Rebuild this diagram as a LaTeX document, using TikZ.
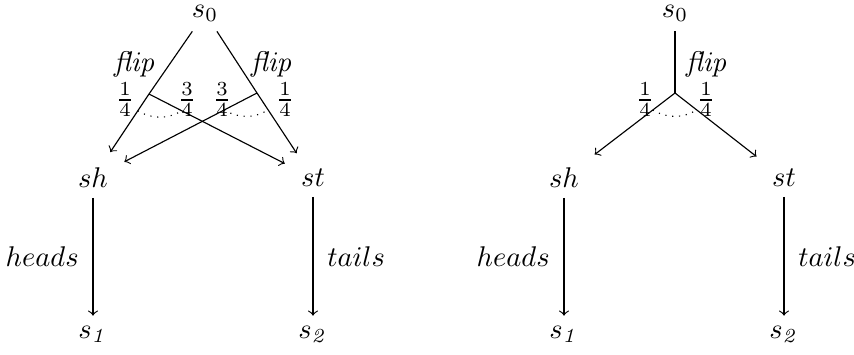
\documentclass[tikz,border=0pt]{standalone}
\usetikzlibrary{calc}
\begin{document}
\begin{tikzpicture}[x=0.351pt,y=-0.351pt,line width=0.4pt,>=to,
  branch/.style={->,shorten >=2.5pt},
  choice/.style={dotted,bend right=30}]
\useasboundingbox (0,0) rectangle (854,354);
% left: one flip for each outcome
\node (s0) at (205,13) {$s_0$};
\coordinate (fa) at (149,94);
\coordinate (fb) at (257,93);
\node (sh) at (93,178) {$sh$};
\node (st) at (313,178) {$st$};
\node (s1) at (93,334) {$s_{\mathit{1}}$};
\node (s2) at (313,334) {$s_{\mathit{2}}$};
\draw (s0) -- (fa);
\draw (s0) -- (fb);
\draw[branch] (fa) -- (sh);
\draw[branch] (fa) -- (st);
\draw[branch] (fb) -- (sh);
\draw[branch] (fb) -- (st);
\draw[choice] ($(fa)!0.2!(sh)$) to ($(fa)!0.2!(st)$);
\draw[choice] ($(fb)!0.2!(sh)$) to ($(fb)!0.2!(st)$);
\draw[->] (sh) -- node[left=1.5pt] {$heads$} (s1);
\draw[->] (st) -- node[right=1.5pt] {$tails$} (s2);
\node (fla) at (135,64) {$\mathit{flip}$};
\node (flb) at (272,64) {$\mathit{flip}$};
\node (pa1) at (125,100) {$\frac{1}{4}$};
\node (pa3) at (187,100) {$\frac{3}{4}$};
\node (pb3) at (222,100) {$\frac{3}{4}$};
\node (pb1) at (285,100) {$\frac{1}{4}$};
% right: a single flip
\node (t0) at (675,13) {$s_0$};
\coordinate (fc) at (675,93);
\node (th) at (564,178) {$sh$};
\node (tt) at (784,178) {$st$};
\node (t1) at (564,334) {$s_{\mathit{1}}$};
\node (t2) at (784,334) {$s_{\mathit{2}}$};
\draw (t0) -- (fc);
\draw[branch] (fc) -- (th);
\draw[branch] (fc) -- (tt);
\draw[choice] ($(fc)!0.2!(th)$) to ($(fc)!0.2!(tt)$);
\draw[->] (th) -- node[left=1.5pt] {$heads$} (t1);
\draw[->] (tt) -- node[right=1.5pt] {$tails$} (t2);
\node (flc) at (707,64) {$\mathit{flip}$};
\node (pc1) at (645,100) {$\frac{1}{4}$};
\node (pc2) at (706,100) {$\frac{1}{4}$};
\end{tikzpicture}
\end{document}
